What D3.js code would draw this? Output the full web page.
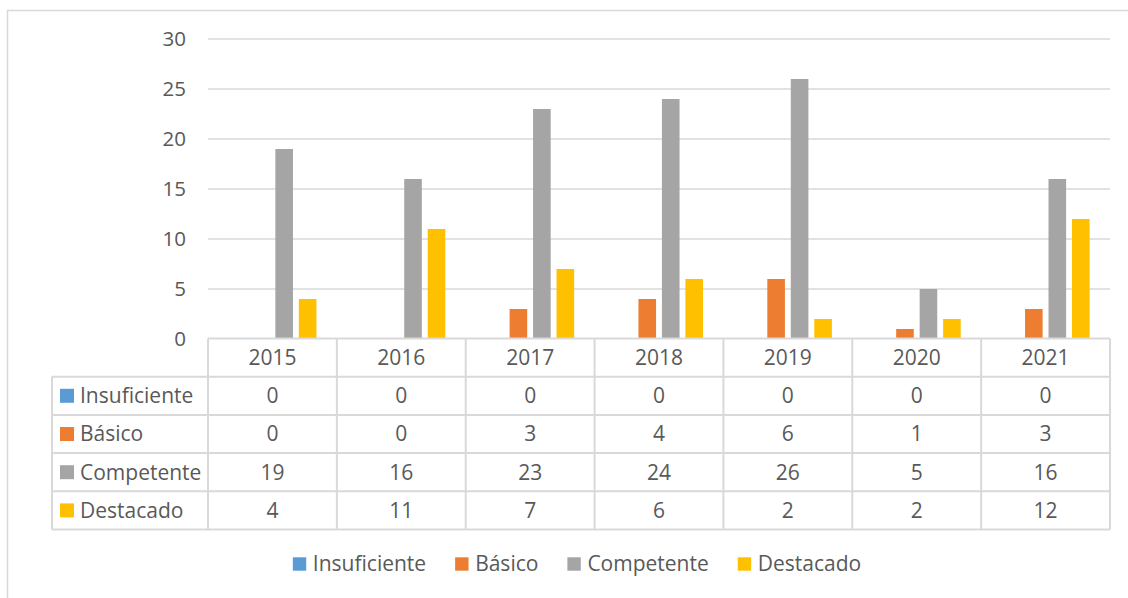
<!DOCTYPE html>
<html>
<head>
<meta charset="utf-8">
<script src="https://cdn.jsdelivr.net/npm/d3@7"></script>
<style>
  body { margin: 0; background: #fff; }
  text { font-family: "Open Sans", sans-serif; fill: #595959; }
</style>
</head>
<body>
<div class="chart"></div>
<script>
//Data
var years = ["2015", "2016", "2017", "2018", "2019", "2020", "2021"];
var seriesNames = ["Insuficiente", "Básico", "Competente", "Destacado"];
var insuficiente = [0, 0, 0, 0, 0, 0, 0];
var basico = [0, 0, 3, 4, 6, 1, 3];
var competente = [19, 16, 23, 24, 26, 5, 16];
var destacado = [4, 11, 7, 6, 2, 2, 12];
var colors = ["#5B9BD5", "#ED7D31", "#A5A5A5", "#FFC000"];
var yTicks = [0, 5, 10, 15, 20, 25, 30];

var values = [insuficiente, basico, competente, destacado];

//Width and height
var w = 1128;
var h = 598;
var plotLeft = 208, plotRight = 1110, plotTop = 39, plotBottom = 339;
var rowH = 38.2;
var gridColor = "#d9d9d9";

var svg = d3.select(".chart")
    .append("svg")
    .attr("width", w)
    .attr("height", h);

//Chart frame
svg.append("rect")
    .attr("x", 7.5)
    .attr("y", 10.5)
    .attr("width", 1140)
    .attr("height", 620)
    .attr("fill", "none")
    .attr("stroke", gridColor)
    .attr("stroke-width", 1.5);

//Scales
var x0 = d3.scaleBand()
    .domain(years)
    .range([plotLeft, plotRight]);

var x1 = d3.scaleBand()
    .domain(seriesNames)
    .range([0, x0.bandwidth()])
    .paddingInner(0.25)
    .paddingOuter(0.87);

var y = d3.scaleLinear()
    .domain([0, 30])
    .range([plotBottom, plotTop]);

//Gridlines
svg.append("g")
    .selectAll("line")
    .data(yTicks.filter(d => d > 0))
    .join("line")
    .attr("x1", plotLeft)
    .attr("x2", plotRight)
    .attr("y1", d => y(d))
    .attr("y2", d => y(d))
    .attr("stroke", gridColor)
    .attr("stroke-width", 1.3);

//Y axis labels
svg.append("g")
    .attr("transform", "translate(186,0)")
    .call(d3.axisLeft(y).tickValues(yTicks).tickSize(0).tickPadding(0))
    .call(g => g.select(".domain").remove())
    .selectAll("text")
    .style("font-size", "20.5px")
    .attr("fill", "#595959");

//Bars
var groups = svg.append("g")
    .selectAll("g")
    .data(years)
    .join("g")
    .attr("transform", d => "translate(" + x0(d) + ",0)");

groups.selectAll("rect")
    .data((d, i) => seriesNames.map((s, j) => ({ s: s, v: values[j][i], c: colors[j] })))
    .join("rect")
    .attr("x", d => x1(d.s))
    .attr("width", x1.bandwidth())
    .attr("y", d => y(d.v))
    .attr("height", d => y(0) - y(d.v))
    .attr("fill", d => d.c);

//Data table
var table = svg.append("g");
var tableTop = plotBottom - 0.5;
var tableLeft = 52;
var lineW = 2;

//horizontal lines
table.append("line")
    .attr("x1", plotLeft).attr("x2", plotRight)
    .attr("y1", tableTop).attr("y2", tableTop)
    .attr("stroke", gridColor).attr("stroke-width", lineW);

table.selectAll(".hrow")
    .data(d3.range(1, seriesNames.length + 2))
    .join("line")
    .attr("class", "hrow")
    .attr("x1", tableLeft).attr("x2", plotRight)
    .attr("y1", d => tableTop + d * rowH)
    .attr("y2", d => tableTop + d * rowH)
    .attr("stroke", gridColor).attr("stroke-width", lineW);

//vertical lines
table.selectAll(".vcol")
    .data(years.map(d => x0(d)).concat([plotRight]))
    .join("line")
    .attr("class", "vcol")
    .attr("x1", d => d).attr("x2", d => d)
    .attr("y1", tableTop)
    .attr("y2", tableTop + (seriesNames.length + 1) * rowH)
    .attr("stroke", gridColor).attr("stroke-width", lineW);

table.append("line")
    .attr("x1", tableLeft).attr("x2", tableLeft)
    .attr("y1", tableTop + rowH)
    .attr("y2", tableTop + (seriesNames.length + 1) * rowH)
    .attr("stroke", gridColor).attr("stroke-width", lineW);

//year header
table.selectAll(".year")
    .data(years)
    .join("text")
    .attr("class", "year")
    .attr("x", d => x0(d) + x0.bandwidth() / 2)
    .attr("y", tableTop + rowH / 2)
    .attr("dy", "0.35em")
    .attr("text-anchor", "middle")
    .style("font-size", "21px")
    .text(d => d);

//series rows
var rows = table.selectAll(".row")
    .data(seriesNames)
    .join("g")
    .attr("class", "row")
    .attr("transform", (d, i) => "translate(0," + (tableTop + (i + 1.5) * rowH) + ")");

rows.append("rect")
    .attr("x", 60)
    .attr("y", -7)
    .attr("width", 14)
    .attr("height", 14)
    .attr("fill", (d, i) => colors[i]);

rows.append("text")
    .attr("x", 80)
    .attr("dy", "0.35em")
    .style("font-size", "21px")
    .text(d => d);

rows.each(function(s, j) {
    d3.select(this).selectAll(".val")
        .data(values[j])
        .join("text")
        .attr("class", "val")
        .attr("x", (d, i) => x0(years[i]) + x0.bandwidth() / 2)
        .attr("dy", "0.35em")
        .attr("text-anchor", "middle")
        .style("font-size", "21px")
        .text(d => d);
});

//Legend
var legend = svg.append("g").attr("transform", "translate(0,564)");
var items = legend.selectAll("g")
    .data(seriesNames)
    .join("g");

items.append("rect")
    .attr("y", -6.7)
    .attr("width", 13.4)
    .attr("height", 13.4)
    .attr("fill", (d, i) => colors[i]);

items.append("text")
    .attr("x", 20)
    .attr("dy", "0.35em")
    .style("font-size", "21px")
    .text(d => d);

var gap = 29;
var pos = 0, offsets = [];
items.each(function() {
    offsets.push(pos);
    pos += 20 + d3.select(this).select("text").node().getComputedTextLength() + gap;
});
var total = pos - gap;
var start = 577 - total / 2;
items.attr("transform", (d, i) => "translate(" + (start + offsets[i]) + ",0)");
</script>
</body>
</html>
